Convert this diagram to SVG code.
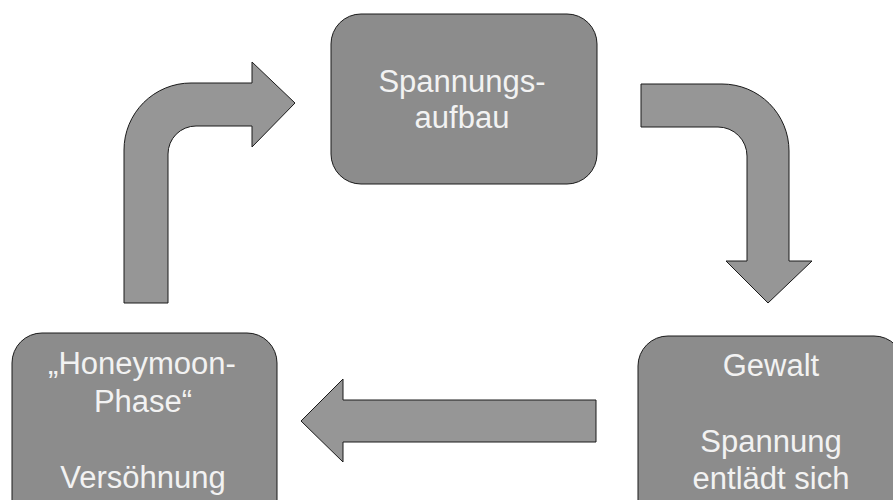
<svg xmlns="http://www.w3.org/2000/svg" width="893" height="500" viewBox="0 0 893 500">
<style>
.box{fill:#8c8c8c;stroke:#1a1a1a;stroke-width:1}
.arr{fill:#969696;stroke:#1a1a1a;stroke-width:1;stroke-linejoin:miter}
.t{font-family:"Liberation Sans",Arial,sans-serif;font-size:31px;fill:#f2f2f2;text-anchor:middle}
</style>
<rect width="893" height="500" fill="#ffffff"/>
<g id="connectors">
<path class="arr" d="M124,303 L124,150 A67,67 0 0 1 191,83 L252,83 L252,62 L295,103 L252,147 L252,126 L196,126 A28,28 0 0 0 168,154 L168,303 Z"/>
<path class="arr" d="M641,84 L722,84 A67,67 0 0 1 789,151 L789,261 L812,261 L768,303 L726,261 L747,261 L747,156 A29,29 0 0 0 718,127 L641,127 Z"/>
<path class="arr" d="M596,400 L343,400 L343,379 L301,421 L343,462 L343,442 L596,442 Z"/>
</g>
<g id="spannungsaufbau">
<rect class="box" x="331" y="14" width="266" height="170" rx="30" ry="30"/>
<text class="t" x="462" y="92">Spannungs-</text>
<text class="t" x="462" y="128">aufbau</text>
</g>
<g id="honeymoon">
<rect class="box" x="12" y="333" width="265" height="200" rx="30" ry="30"/>
<text class="t" x="142" y="374">„Honeymoon-</text>
<text class="t" x="143" y="412">Phase“</text>
<text class="t" x="143" y="488">Versöhnung</text>
</g>
<g id="gewalt">
<rect class="box" x="638" y="336" width="266" height="200" rx="30" ry="30"/>
<text class="t" x="771" y="376">Gewalt</text>
<text class="t" x="771" y="452">Spannung</text>
<text class="t" x="771" y="489">entlädt sich</text>
</g>
</svg>
